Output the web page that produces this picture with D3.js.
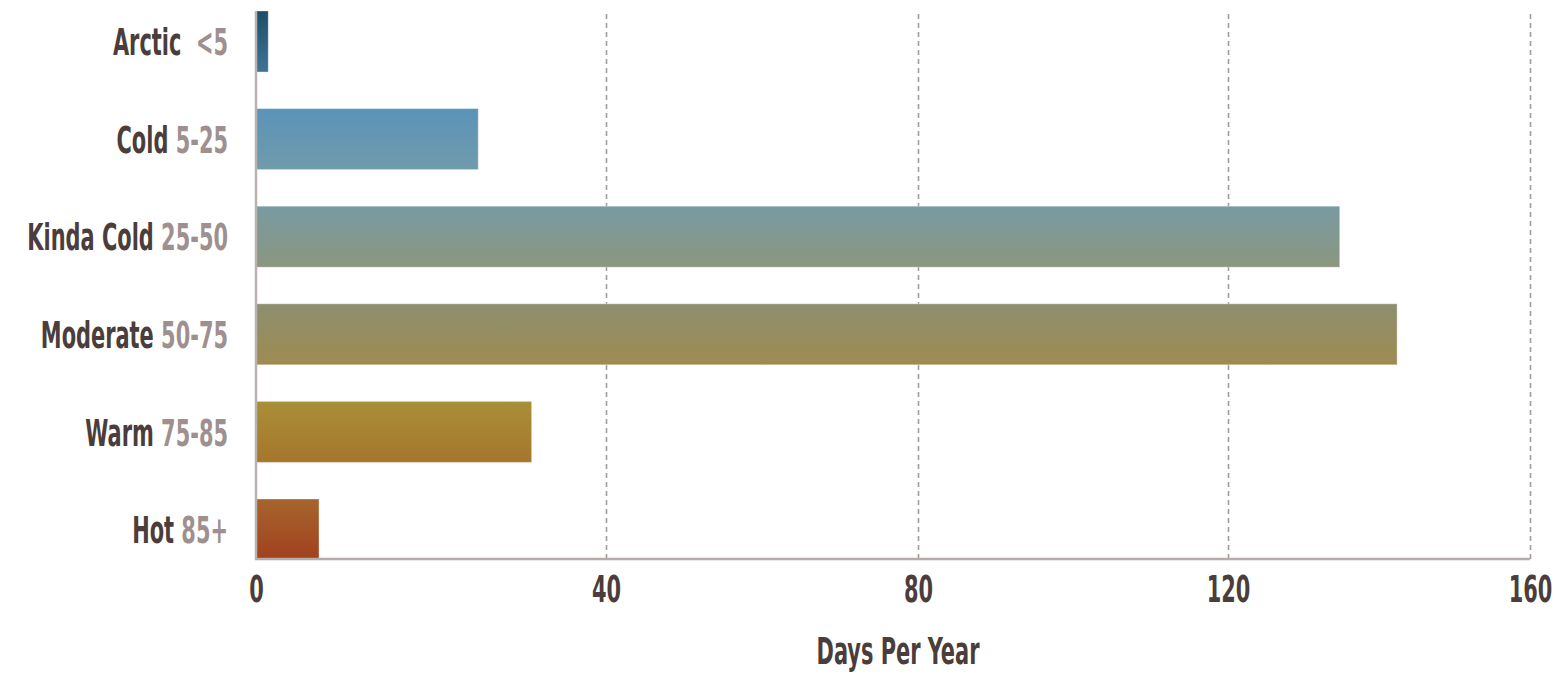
<!DOCTYPE html>
<html>
<head>
<meta charset="utf-8">
<script src="https://cdn.jsdelivr.net/npm/d3@7"></script>
<style>
  html, body { margin: 0; padding: 0; background: #fff; }
  svg { display: block; }
  text { font-family: "Liberation Sans Narrow", "DejaVu Sans Condensed", "Arial Narrow", sans-serif; font-weight: bold; }
</style>
</head>
<body>
<svg id="chart" width="1558" height="674"></svg>
<script>
// Temperature bands and how many days per year fall in each
const categories = ["Arctic", "Cold", "Kinda Cold", "Moderate", "Warm", "Hot"];
const rangeLabels = ["<5", "5-25", "25-50", "50-75", "75-85", "85+"];
const daysPerYear = [1.4, 25.4, 134.8, 142.4, 31.5, 7.2];
const xTickValues = [0, 40, 80, 120, 160];
const xAxisTitle = "Days Per Year";

// Vertical gradient stops (top, bottom) for each band, cold to hot
const barTopColors    = ["#1f4c66", "#5b93b9", "#789aa2", "#8d8f70", "#a88f38", "#a6652d"];
const barBottomColors = ["#3d7596", "#709bab", "#8b967e", "#9e8b50", "#a6762c", "#a2401f"];

const svg = d3.select("#chart");

const plotTop = 11, plotBottom = 559;
const x = d3.scaleLinear().domain(xTickValues).range([256, 606, 918, 1228, 1530]);
const y = d3.scaleBand().domain(categories).range([plotTop, plotBottom + 1])
  .paddingInner(0.375).paddingOuter(0);

const nameColor = "#4a3d3b";
const rangeColor = "#9f9090";
const fontSize = 38;

// Horizontal compression so the sans narrow face reads like a tall condensed face
const probe = svg.append("text").attr("font-size", fontSize).text("Moderate");
const sx = Math.min(1, 113 / probe.node().getComputedTextLength());
probe.remove();

// gradients
const defs = svg.append("defs");
categories.forEach((c, i) => {
  const g = defs.append("linearGradient").attr("id", "grad" + i)
    .attr("x1", 0).attr("y1", 0).attr("x2", 0).attr("y2", 1);
  g.append("stop").attr("offset", "0%").attr("stop-color", barTopColors[i]);
  g.append("stop").attr("offset", "100%").attr("stop-color", barBottomColors[i]);
});

// dashed gridlines
const grid = svg.append("g").attr("transform", `translate(0,${plotBottom})`)
  .call(d3.axisBottom(x).tickValues(xTickValues.filter(v => v > 0))
    .tickSize(-(plotBottom - plotTop)).tickFormat(""));
grid.select(".domain").remove();
grid.selectAll("line").attr("stroke", "#a19c9a").attr("stroke-width", 1.6)
  .attr("stroke-dasharray", "5,4");

// bars
svg.append("g").selectAll("rect")
  .data(categories)
  .join("rect")
  .attr("x", x(0))
  .attr("y", d => y(d))
  .attr("width", (d, i) => x(daysPerYear[i]) - x(0))
  .attr("height", y.bandwidth())
  .attr("fill", (d, i) => `url(#grad${i})`)
  .attr("stroke", "rgba(255,255,255,0.35)")
  .attr("stroke-width", 1);

// axis lines
svg.append("line").attr("x1", x(0)).attr("x2", x(0))
  .attr("y1", plotTop).attr("y2", plotBottom)
  .attr("stroke", "#bab2af").attr("stroke-width", 2.5);
svg.append("line").attr("x1", x(0) - 1).attr("x2", x(160))
  .attr("y1", plotBottom).attr("y2", plotBottom)
  .attr("stroke", "#b4aca9").attr("stroke-width", 2.5);

// x tick labels
const xAxis = svg.append("g").attr("transform", `translate(0,${plotBottom})`)
  .call(d3.axisBottom(x).tickValues(xTickValues).tickSize(0).tickPadding(16)
    .tickFormat(d3.format("d")));
xAxis.select(".domain").remove();
xAxis.attr("font-family", null);
xAxis.selectAll("text")
  .attr("font-size", fontSize).attr("fill", nameColor)
  .attr("transform", `scale(${sx},1)`);

// category labels: name in dark, temperature range in light
const labels = svg.append("g").selectAll("text")
  .data(categories)
  .join("text")
  .attr("transform", d => `translate(228,${y(d) + y.bandwidth() / 2}) scale(${sx},1)`)
  .attr("text-anchor", "end")
  .attr("dy", "0.36em")
  .attr("font-size", fontSize)
  .style("white-space", "pre");
labels.append("tspan").attr("fill", nameColor).text(d => d);
labels.append("tspan").attr("fill", rangeColor)
  .text((d, i) => (i === 0 ? "  " : " ") + rangeLabels[i]);

// axis title
svg.append("text")
  .attr("transform", `translate(898,664) scale(${sx},1)`)
  .attr("text-anchor", "middle")
  .attr("font-size", fontSize)
  .attr("fill", nameColor)
  .text(xAxisTitle);
</script>
</body>
</html>
